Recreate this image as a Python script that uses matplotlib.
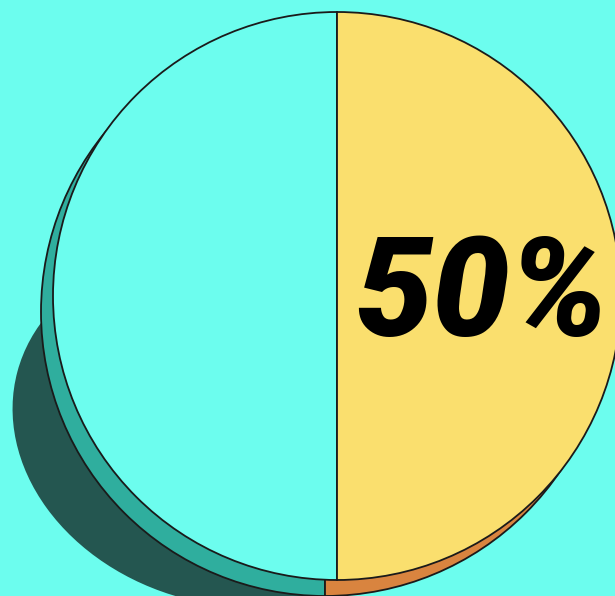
import matplotlib.pyplot as plt
from matplotlib.patches import Ellipse

# data
labels = ['other', 'share']
values = [50, 50]
share_text = '50%'

bg = '#6cfdee'
top_colors = ['#6cfdee', '#fadf6e']
side_colors = ['#2fae9e', '#d9843f']
shadow_color = '#245650'
line = '#1a1a1a'

fig = plt.figure(figsize=(6.15, 5.96), dpi=100)
fig.patch.set_facecolor(bg)
ax = fig.add_axes([0, 0, 1, 1])
ax.set_facecolor(bg)

cx, cy, r = 337, 296, 284

# shadow under the disc, only shows on the lower left
ax.add_patch(Ellipse((228, 428), 436, 352, angle=15, facecolor=shadow_color,
                     edgecolor='none', zorder=1))

# side of the disc (a copy pushed down-left)
ax.pie(values, colors=side_colors, startangle=90, radius=r,
       center=(cx - 12, cy + 16), frame=True,
       wedgeprops=dict(edgecolor=line, linewidth=1.3, zorder=2))

# top of the disc
wedges, _ = ax.pie(values, colors=top_colors, startangle=90, radius=r,
                   center=(cx, cy), frame=True,
                   wedgeprops=dict(edgecolor=line, linewidth=1.3, zorder=3))
for w in wedges:
    w.set_zorder(3)

ax.text(482, 298, share_text, ha='center', va='center', fontsize=99,
        fontweight='black', style='italic', color='black',
        family=['Roboto', 'DejaVu Sans'], zorder=5)

ax.set_xlim(0, 615)
ax.set_ylim(596, 0)
ax.set_aspect('equal')
ax.axis('off')

fig.savefig('out.png', dpi=100, facecolor=bg)
